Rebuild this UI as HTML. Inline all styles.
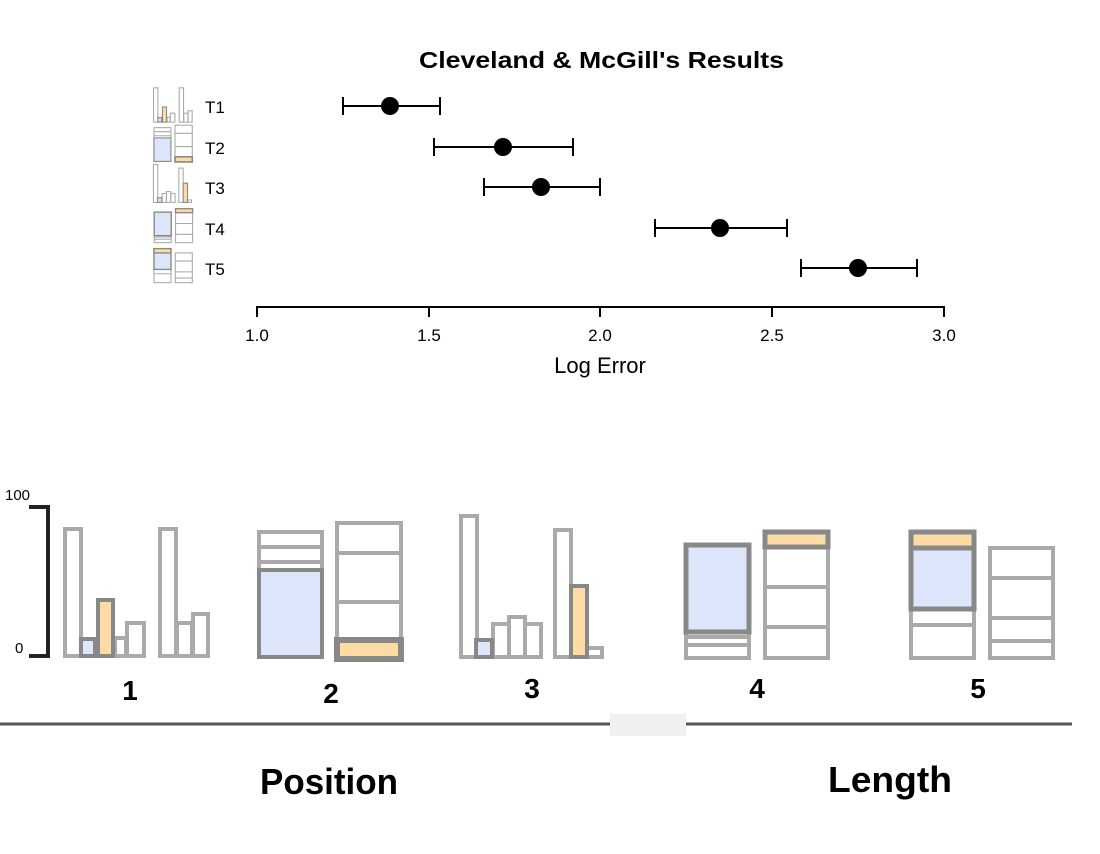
<!DOCTYPE html>
<html><head><meta charset="utf-8"><style>html,body{margin:0;padding:0;background:#fff}svg{display:block}</style></head>
<body>
<svg width="1100" height="854" viewBox="0 0 1100 854" xmlns="http://www.w3.org/2000/svg">
<defs>
<g id="c1" fill="none" stroke-width="4">
 <rect x="65" y="529" width="16" height="127" stroke="#aaa"/>
 <rect x="115" y="638" width="11" height="18" stroke="#aaa"/>
 <rect x="127" y="623" width="17" height="33" stroke="#aaa"/>
 <rect x="81" y="639" width="14" height="17" stroke="#888" fill="#dde5fb"/>
 <rect x="98" y="600" width="15" height="56" stroke="#888" fill="#fddba5"/>
 <rect x="160" y="529" width="16" height="127" stroke="#aaa"/>
 <rect x="177" y="623" width="15" height="33" stroke="#aaa"/>
 <rect x="193" y="614" width="15" height="42" stroke="#aaa"/>
</g>
<g id="c2" fill="none" stroke-width="4">
 <rect x="259" y="532" width="63" height="125" stroke="#aaa"/>
 <line x1="259" y1="547" x2="322" y2="547" stroke="#aaa"/>
 <line x1="259" y1="562" x2="322" y2="562" stroke="#aaa"/>
 <rect x="259" y="570" width="63" height="87" stroke="#888" fill="#dde5fb"/>
 <rect x="337" y="523" width="64" height="136" stroke="#aaa"/>
 <line x1="337" y1="553" x2="401" y2="553" stroke="#aaa"/>
 <line x1="337" y1="602" x2="401" y2="602" stroke="#aaa"/>
 <rect x="337" y="640" width="64" height="19" stroke="#888" stroke-width="6" fill="#fddba5"/>
</g>
<g id="c3" fill="none" stroke-width="4">
 <rect x="461" y="516" width="16" height="141" stroke="#aaa"/>
 <rect x="493" y="624" width="16" height="33" stroke="#aaa"/>
 <rect x="509" y="617" width="16" height="40" stroke="#aaa"/>
 <rect x="525" y="624" width="16" height="33" stroke="#aaa"/>
 <rect x="476" y="640" width="16" height="17" stroke="#888" fill="#dde5fb"/>
 <rect x="555" y="530" width="16" height="127" stroke="#aaa"/>
 <rect x="587" y="648" width="15" height="9" stroke="#aaa"/>
 <rect x="571" y="586" width="16" height="71" stroke="#888" fill="#fddba5"/>
</g>
<g id="c4" fill="none" stroke-width="4">
 <rect x="686" y="545" width="63" height="113" stroke="#aaa"/>
 <line x1="686" y1="637" x2="749" y2="637" stroke="#aaa"/>
 <line x1="686" y1="645" x2="749" y2="645" stroke="#aaa"/>
 <rect x="686" y="545" width="63" height="87" stroke="#888" stroke-width="5" fill="#dde5fb"/>
 <rect x="765" y="532" width="63" height="126" stroke="#aaa"/>
 <line x1="765" y1="587" x2="828" y2="587" stroke="#aaa"/>
 <line x1="765" y1="627" x2="828" y2="627" stroke="#aaa"/>
 <rect x="765" y="532" width="63" height="15" stroke="#888" stroke-width="5" fill="#fddba5"/>
</g>
<g id="c5" fill="none" stroke-width="4">
 <rect x="911" y="532" width="63" height="126" stroke="#aaa"/>
 <line x1="911" y1="625" x2="974" y2="625" stroke="#aaa"/>
 <rect x="911" y="532" width="63" height="77" stroke="#888" stroke-width="5" fill="#dde5fb"/>
 <rect x="911" y="532" width="63" height="16" stroke="#888" stroke-width="5" fill="#fddba5"/>
 <rect x="990" y="548" width="63" height="110" stroke="#aaa"/>
 <line x1="990" y1="578" x2="1053" y2="578" stroke="#aaa"/>
 <line x1="990" y1="618" x2="1053" y2="618" stroke="#aaa"/>
 <line x1="990" y1="641" x2="1053" y2="641" stroke="#aaa"/>
</g>
</defs>

<text x="419" y="68" textLength="365" lengthAdjust="spacingAndGlyphs" font-family="Liberation Sans, sans-serif" font-weight="bold" font-size="23">Cleveland &amp; McGill's Results</text>
<g font-family="Liberation Sans, sans-serif" font-size="17">
<text x="205" y="113">T1</text><text x="205" y="154">T2</text><text x="205" y="194">T3</text><text x="205" y="235">T4</text><text x="205" y="275">T5</text>
</g>
<g stroke-width="1.5">
<use href="#c1" transform="translate(136,-55) scale(0.27)"/>
<use href="#c2" transform="translate(84,-16) scale(0.27)"/>
<use href="#c3" transform="translate(29,25) scale(0.27)"/>
<use href="#c4" transform="translate(-31,65) scale(0.27)"/>
<use href="#c5" transform="translate(-92,105) scale(0.27)"/>
</g>

<g stroke="#000" stroke-width="2">
 <line x1="343" y1="106" x2="440" y2="106"/><line x1="343" y1="97" x2="343" y2="115"/><line x1="440" y1="97" x2="440" y2="115"/>
 <line x1="434" y1="147" x2="573" y2="147"/><line x1="434" y1="138" x2="434" y2="156"/><line x1="573" y1="138" x2="573" y2="156"/>
 <line x1="484" y1="187" x2="600" y2="187"/><line x1="484" y1="178" x2="484" y2="196"/><line x1="600" y1="178" x2="600" y2="196"/>
 <line x1="655" y1="228" x2="787" y2="228"/><line x1="655" y1="219" x2="655" y2="237"/><line x1="787" y1="219" x2="787" y2="237"/>
 <line x1="801" y1="268" x2="917" y2="268"/><line x1="801" y1="259" x2="801" y2="277"/><line x1="917" y1="259" x2="917" y2="277"/>
 <line x1="256" y1="307" x2="945" y2="307"/>
 <line x1="257" y1="307" x2="257" y2="317"/><line x1="429" y1="307" x2="429" y2="317"/><line x1="600" y1="307" x2="600" y2="317"/><line x1="772" y1="307" x2="772" y2="317"/><line x1="944" y1="307" x2="944" y2="317"/>
</g>
<g fill="#000"><circle cx="390" cy="106" r="9"/><circle cx="503" cy="147" r="9"/><circle cx="541" cy="187" r="9"/><circle cx="720" cy="228" r="9"/><circle cx="858" cy="268" r="9"/></g>
<g font-family="Liberation Sans, sans-serif" font-size="17" text-anchor="middle">
<text x="257" y="341">1.0</text><text x="429" y="341">1.5</text><text x="600" y="341">2.0</text><text x="772" y="341">2.5</text><text x="944" y="341">3.0</text>
<text x="600" y="373" font-size="22">Log Error</text>
</g>

<path d="M29 507 H48 V656 H29" fill="none" stroke="#222" stroke-width="4"/>
<text x="5" y="500" font-family="Liberation Sans, sans-serif" font-size="15">100</text>
<text x="15" y="653" font-family="Liberation Sans, sans-serif" font-size="15">0</text>
<use href="#c1"/><use href="#c2"/><use href="#c3"/><use href="#c4"/><use href="#c5"/>
<g font-family="Liberation Sans, sans-serif" font-weight="bold" font-size="28" text-anchor="middle">
<text x="130" y="700">1</text><text x="331" y="703">2</text><text x="532" y="698">3</text><text x="757" y="698">4</text><text x="978" y="698">5</text>
</g>
<line x1="0" y1="724" x2="1072" y2="724" stroke="#555" stroke-width="3"/>
<rect x="610" y="714" width="76" height="22" fill="#f0f0f0"/>
<g font-family="Liberation Sans, sans-serif" font-weight="bold" font-size="36">
<text x="260" y="794" textLength="138" lengthAdjust="spacingAndGlyphs">Position</text>
<text x="828" y="792" textLength="124" lengthAdjust="spacingAndGlyphs">Length</text>
</g>
</svg>
</body></html>
